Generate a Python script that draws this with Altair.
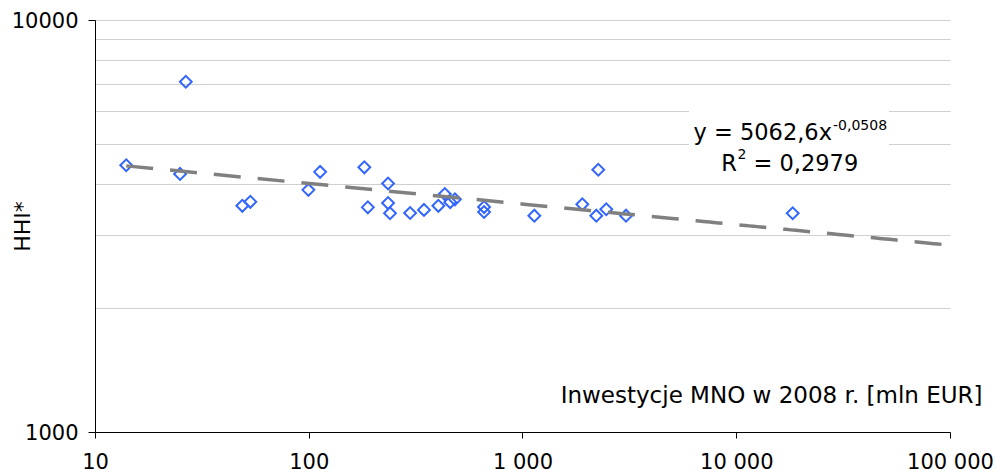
import altair as alt
import pandas as pd

# Investment of MNOs in 2008 [mln EUR] and HHI*
inwestycje = [14.0, 25.0, 26.6, 48.9, 53.3, 99.6, 113, 182, 189, 235, 235, 240,
              298, 346, 404, 433, 459, 483, 661, 661, 1136, 2262, 1905, 2214,
              2466, 3050, 18370]
hhi = [4440, 4230, 7080, 3540, 3620, 3870, 4280, 4390, 3510, 4010, 3595, 3395,
       3400, 3460, 3540, 3780, 3613, 3670, 3515, 3420, 3350, 4330, 3570, 3350,
       3472, 3350, 3395]

x_ticks = [10, 100, 1000, 10000, 100000]
y_grid = [1000, 2000, 3000, 4000, 5000, 6000, 7000, 8000, 9000, 10000]
trend_extent = [14, 100000]

eq_main = "y = 5062,6x"
eq_exp = "-0,0508"
r2_main = "R"
r2_exp = "2"
r2_rest = "= 0,2979"

FONT = "DejaVu Sans"

df = pd.DataFrame({"inwestycje": inwestycje, "hhi": hhi})
one = pd.DataFrame({"k": [0]})

x_enc = alt.X(
    "inwestycje:Q",
    scale=alt.Scale(type="log", domain=[10, 100000], nice=False),
    axis=alt.Axis(
        values=x_ticks,
        labelExpr="replace(format(datum.value, ',d'), ',', ' ')",
        grid=False,
        domainColor="black",
        tickColor="black",
        tickSize=6,
        labelPadding=13,
        labelFlush=False,
        labelOverlap=False,
        labelFont=FONT,
        labelFontSize=21,
        labelColor="black",
        title="Inwestycje MNO w 2008 r. [mln EUR]",
        titleFont=FONT,
        titleFontSize=23,
        titleFontWeight="normal",
        titleColor="black",
        titleAlign="right",
        titleBaseline="middle",
        titleX=887,
        titleY=-37,
    ),
)

y_enc = alt.Y(
    "hhi:Q",
    scale=alt.Scale(type="log", domain=[1000, 10000], nice=False),
    axis=alt.Axis(
        values=y_grid,
        labelExpr="(datum.value == 1000 || datum.value == 10000) ? format(datum.value, 'd') : ''",
        tickOpacity={"condition": {"test": "datum.value == 1000 || datum.value == 10000", "value": 1}, "value": 0},
        grid=True,
        gridColor="#d0d0d0",
        gridWidth=1.2,
        domainColor="black",
        tickColor="black",
        tickSize=7,
        labelPadding=10,
        labelOverlap=False,
        labelOffset=1,
        labelFont=FONT,
        labelFontSize=21,
        labelColor="black",
        title="HHI*",
        titleFont=FONT,
        titleFontSize=22,
        titleFontWeight="normal",
        titleColor="black",
        titleAngle=270,
        titleAlign="center",
        titleBaseline="bottom",
        titleX=-61,
        titleY=206,
    ),
)

points = alt.Chart(df).mark_point(
    shape="diamond", filled=False, color="#3366ff", size=140, strokeWidth=2, opacity=1
).encode(x=x_enc, y=y_enc)

trend = alt.Chart(df).transform_regression(
    "inwestycje", "hhi", method="pow", extent=trend_extent
).mark_line(color="#808080", strokeWidth=3.5, strokeDash=[27, 17]).encode(x=x_enc, y=y_enc)

box = alt.Chart(one).mark_rect(color="white").encode(
    x=alt.value(594), x2=alt.value(794), y=alt.value(88), y2=alt.value(158)
)

def label(txt, size, align, px, py):
    return alt.Chart(one).mark_text(
        align=align, baseline="alphabetic", font=FONT, fontSize=size,
        color="black", text=txt
    ).encode(x=alt.value(px), y=alt.value(py))

t1 = label(eq_main, 22.5, "right", 737, 120)
t2 = label(eq_exp, 14, "left", 738, 110)
t3 = label(r2_main, 22.5, "right", 642, 150.7)
t4 = label(r2_exp, 14, "left", 642.5, 139)
t5 = label(r2_rest, 22.5, "left", 658.5, 150.7)

chart = alt.layer(points, trend, box, t1, t2, t3, t4, t5).properties(
    width=855,
    height=412,
    autosize=alt.AutoSizeParams(type="none"),
    padding={"left": 95, "top": 20, "right": 46, "bottom": 38},
    background="white",
).configure_view(stroke=None)

chart.save("out.html", embed_options={"renderer": "svg", "actions": False})
